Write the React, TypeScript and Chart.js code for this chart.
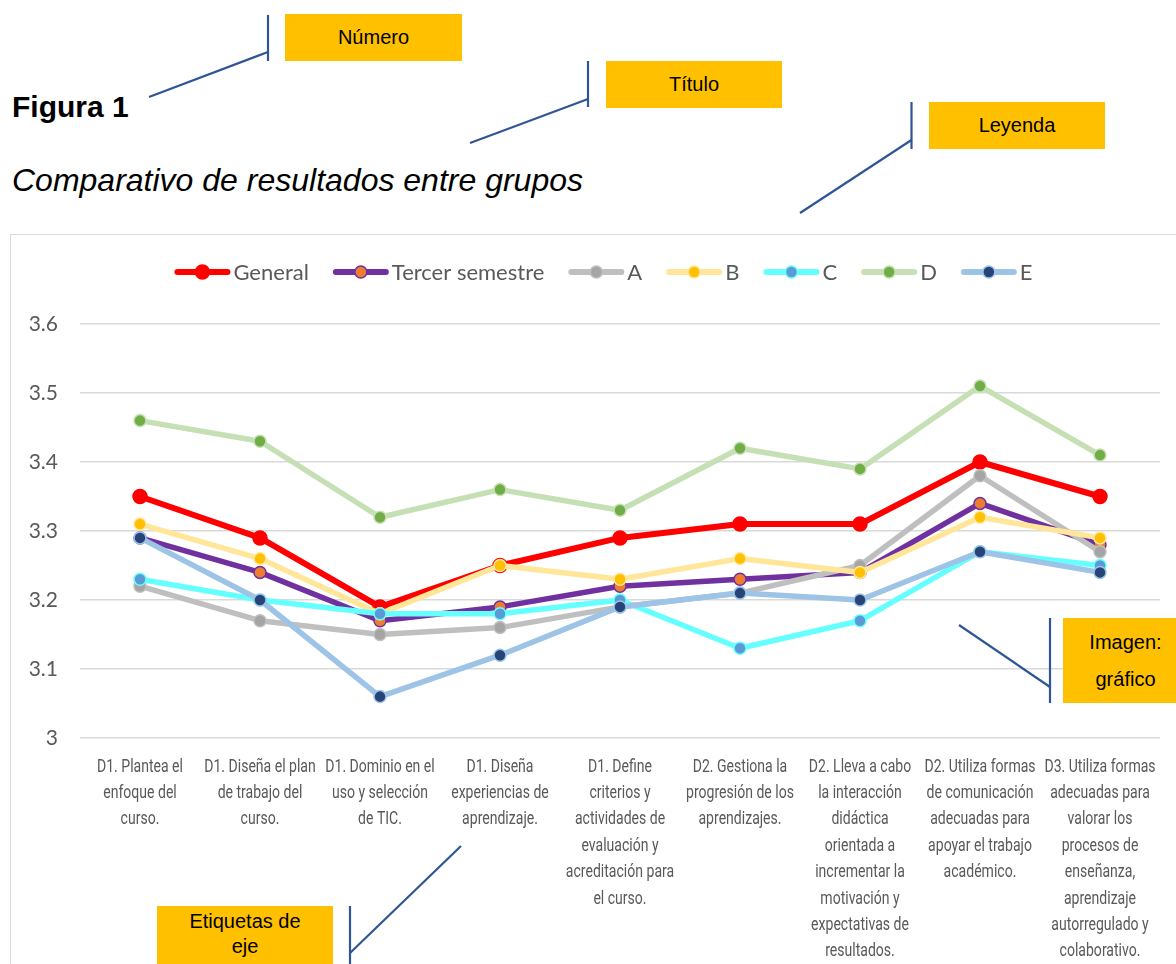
import React, { useEffect, useRef } from "react";
import { Chart, registerables } from "chart.js";

Chart.register(...registerables);

const categories: string[][] = [
  ["D1. Plantea el", "enfoque del", "curso."],
  ["D1. Diseña el plan", "de trabajo del", "curso."],
  ["D1. Dominio en el", "uso y selección", "de TIC."],
  ["D1. Diseña", "experiencias de", "aprendizaje."],
  ["D1. Define", "criterios y", "actividades de", "evaluación y", "acreditación para", "el curso."],
  ["D2. Gestiona la", "progresión de los", "aprendizajes."],
  ["D2. Lleva a cabo", "la interacción", "didáctica", "orientada a", "incrementar la", "motivación y", "expectativas de", "resultados."],
  ["D2. Utiliza formas", "de comunicación", "adecuadas para", "apoyar el trabajo", "académico."],
  ["D3. Utiliza formas", "adecuadas para", "valorar los", "procesos de", "enseñanza,", "aprendizaje", "autorregulado y", "colaborativo."],
];

const seriesNames = ["General", "Tercer semestre", "A", "B", "C", "D", "E"];

const general = [3.35, 3.29, 3.19, 3.25, 3.29, 3.31, 3.31, 3.4, 3.35];
const tercerSemestre = [3.29, 3.24, 3.17, 3.19, 3.22, 3.23, 3.24, 3.34, 3.28];
const grupoA = [3.22, 3.17, 3.15, 3.16, 3.19, 3.21, 3.25, 3.38, 3.27];
const grupoB = [3.31, 3.26, 3.18, 3.25, 3.23, 3.26, 3.24, 3.32, 3.29];
const grupoC = [3.23, 3.2, 3.18, 3.18, 3.2, 3.13, 3.17, 3.27, 3.25];
const grupoD = [3.46, 3.43, 3.32, 3.36, 3.33, 3.42, 3.39, 3.51, 3.41];
const grupoE = [3.29, 3.2, 3.06, 3.12, 3.19, 3.21, 3.2, 3.27, 3.24];

const yMin = 3;
const yMax = 3.6;
const yStep = 0.1;
const yTickLabels = ["3", "3.1", "3.2", "3.3", "3.4", "3.5", "3.6"];

const seriesValues = [general, tercerSemestre, grupoA, grupoB, grupoC, grupoD, grupoE];

const seriesStyles = [
  { line: "#FF0000", fill: "#FF0000", border: "#FF0000", width: 6, radius: 7 },
  { line: "#7030A0", fill: "#ED7D31", border: "#7030A0", width: 5.5, radius: 6 },
  { line: "#BFBFBF", fill: "#A5A5A5", border: "#BFBFBF", width: 5.5, radius: 6 },
  { line: "#FFE699", fill: "#FFC000", border: "#FFE699", width: 5.5, radius: 6 },
  { line: "#66FFFF", fill: "#5B9BD5", border: "#66FFFF", width: 5.5, radius: 6 },
  { line: "#C5E0B4", fill: "#70AD47", border: "#C5E0B4", width: 5.5, radius: 6 },
  { line: "#9DC3E6", fill: "#264478", border: "#9DC3E6", width: 5.5, radius: 6 },
];

const CANVAS_W = 1185;
const CANVAS_H = 729;
const TEXT_GRAY = "#595959";

const excelLegend = {
  id: "excelLegend",
  afterDraw(chart: any) {
    const ctx = chart.ctx as CanvasRenderingContext2D;
    const datasets = chart.data.datasets;
    ctx.save();
    ctx.font = "22px Lato";
    const lineW = 56;
    const textGap = 3;
    const itemGap = 24;
    const widths = datasets.map((ds: any) => lineW + textGap + ctx.measureText(ds.label).width);
    const total = widths.reduce((a: number, b: number) => a + b, 0) + itemGap * (datasets.length - 1);
    let x = (chart.width - total) / 2;
    const cy = 37;
    datasets.forEach((ds: any, i: number) => {
      ctx.strokeStyle = ds.borderColor;
      ctx.lineWidth = 6;
      ctx.lineCap = "round";
      ctx.beginPath();
      ctx.moveTo(x + 3, cy);
      ctx.lineTo(x + lineW - 3, cy);
      ctx.stroke();
      ctx.beginPath();
      ctx.arc(x + lineW / 2, cy, ds.pointRadius, 0, Math.PI * 2);
      ctx.fillStyle = ds.pointBackgroundColor;
      ctx.fill();
      ctx.lineWidth = ds.pointBorderWidth;
      ctx.strokeStyle = ds.pointBorderColor;
      ctx.stroke();
      ctx.fillStyle = TEXT_GRAY;
      ctx.textAlign = "left";
      ctx.textBaseline = "alphabetic";
      ctx.fillText(ds.label, x + lineW + textGap, cy + 8);
      x += widths[i] + itemGap;
    });
    ctx.restore();
  },
};

const condensedXLabels = {
  id: "condensedXLabels",
  afterDraw(chart: any) {
    const ctx = chart.ctx as CanvasRenderingContext2D;
    const xs = chart.scales.x;
    const top = chart.chartArea.bottom;
    ctx.save();
    ctx.font = "18px Roboto";
    ctx.fillStyle = TEXT_GRAY;
    ctx.textAlign = "center";
    ctx.textBaseline = "alphabetic";
    categories.forEach((lines, i) => {
      const x = xs.getPixelForTick(i);
      lines.forEach((ln, j) => {
        ctx.save();
        ctx.translate(x, top + 33.5 + j * 26.4);
        ctx.scale(0.78, 1.02);
        ctx.fillText(ln, 0, 0);
        ctx.restore();
      });
    });
    ctx.restore();
  },
};

const boxStyle: React.CSSProperties = {
  position: "absolute",
  background: "#FFC000",
  color: "#000",
  fontFamily: '"Liberation Sans", Arial, sans-serif',
  fontSize: 20,
  display: "flex",
  alignItems: "center",
  justifyContent: "center",
  textAlign: "center",
};

const LINE = "#2F5597";

export default function App() {
  const ref = useRef<HTMLCanvasElement>(null);

  useEffect(() => {
    const canvas = ref.current;
    if (!canvas) return;
    const n = seriesNames.length;
    const chart = new Chart(canvas, {
      type: "line",
      data: {
        labels: categories.map((c) => c.join(" ")),
        datasets: seriesNames.map((name, i) => ({
          label: name,
          data: seriesValues[i],
          borderColor: seriesStyles[i].line,
          borderWidth: seriesStyles[i].width,
          pointBackgroundColor: seriesStyles[i].fill,
          pointBorderColor: seriesStyles[i].border,
          pointBorderWidth: 1.5,
          pointRadius: seriesStyles[i].radius,
          pointHoverRadius: seriesStyles[i].radius,
          borderJoinStyle: "round" as const,
          borderCapStyle: "round" as const,
          tension: 0,
          fill: false,
          order: n - i,
        })),
      },
      options: {
        responsive: false,
        maintainAspectRatio: false,
        animation: false,
        layout: { padding: { top: 89, right: 36, left: 0, bottom: 0 } },
        plugins: {
          legend: { display: false },
          tooltip: { enabled: false },
          title: { display: false },
        },
        scales: {
          x: {
            type: "category",
            offset: true,
            grid: { display: false },
            border: { display: false },
            ticks: { display: false },
            afterFit: (s: any) => {
              s.height = 226;
            },
          },
          y: {
            min: yMin,
            max: yMax,
            grid: { color: "#D9D9D9", lineWidth: 1.5, drawTicks: false },
            border: { display: false },
            ticks: {
              stepSize: yStep,
              padding: 22,
              color: TEXT_GRAY,
              font: { family: "Lato", size: 21 },
              callback: (_v: any, index: number) => yTickLabels[index],
            },
            afterFit: (s: any) => {
              s.width = 69;
            },
          },
        },
      },
      plugins: [excelLegend, condensedXLabels],
    });
    return () => chart.destroy();
  }, []);

  return (
    <div
      style={{
        position: "absolute",
        left: 0,
        top: 0,
        width: 1176,
        height: 964,
        overflow: "hidden",
        background: "#fff",
      }}
    >
      <div
        style={{
          position: "absolute",
          left: 10,
          top: 234,
          width: 1188,
          height: 800,
          border: "1px solid #D9D9D9",
          boxSizing: "border-box",
        }}
      />
      <canvas
        ref={ref}
        width={CANVAS_W}
        height={CANVAS_H}
        style={{ position: "absolute", left: 11, top: 235, width: CANVAS_W, height: CANVAS_H }}
      />
      <div
        style={{
          position: "absolute",
          left: 12,
          top: 92,
          fontFamily: '"Liberation Sans", Arial, sans-serif',
          fontWeight: 700,
          fontSize: 30,
          lineHeight: "30px",
          whiteSpace: "nowrap",
          color: "#000",
        }}
      >
        Figura 1
      </div>
      <div
        style={{
          position: "absolute",
          left: 12,
          top: 164,
          fontFamily: '"Liberation Sans", Arial, sans-serif',
          fontStyle: "italic",
          fontSize: 32,
          lineHeight: "32px",
          whiteSpace: "nowrap",
          color: "#000",
        }}
      >
        Comparativo de resultados entre grupos
      </div>

      <div style={{ ...boxStyle, left: 285, top: 14, width: 177, height: 47 }}>Número</div>
      <div style={{ ...boxStyle, left: 606, top: 61, width: 176, height: 47 }}>Título</div>
      <div style={{ ...boxStyle, left: 929, top: 102, width: 176, height: 47 }}>Leyenda</div>
      <div
        style={{
          ...boxStyle,
          left: 1063,
          top: 618,
          width: 125,
          height: 85,
          flexDirection: "column",
          lineHeight: "37px",
        }}
      >
        <span>Imagen:</span>
        <span>gráfico</span>
      </div>
      <div
        style={{
          ...boxStyle,
          left: 157,
          top: 906,
          width: 176,
          height: 70,
          flexDirection: "column",
          justifyContent: "flex-start",
          paddingTop: 3,
          boxSizing: "border-box",
          lineHeight: "25px",
        }}
      >
        <span>Etiquetas de</span>
        <span>eje</span>
      </div>

      <svg
        width={1176}
        height={964}
        style={{ position: "absolute", left: 0, top: 0, pointerEvents: "none" }}
      >
        <g stroke={LINE} strokeWidth={2.2} fill="none">
          <line x1={268} y1={15} x2={268} y2={61} />
          <line x1={268} y1={52} x2={149} y2={97} />
          <line x1={588} y1={61} x2={588} y2={107} />
          <line x1={588} y1={99} x2={470} y2={143} />
          <line x1={911.5} y1={102} x2={911.5} y2={149} />
          <line x1={911.5} y1={140} x2={800} y2={213} />
          <line x1={1050} y1={618} x2={1050} y2={703} />
          <line x1={1050} y1={687} x2={959} y2={625} />
          <line x1={350} y1={906} x2={350} y2={964} />
          <line x1={350} y1={953} x2={461} y2={846} />
        </g>
      </svg>
    </div>
  );
}
